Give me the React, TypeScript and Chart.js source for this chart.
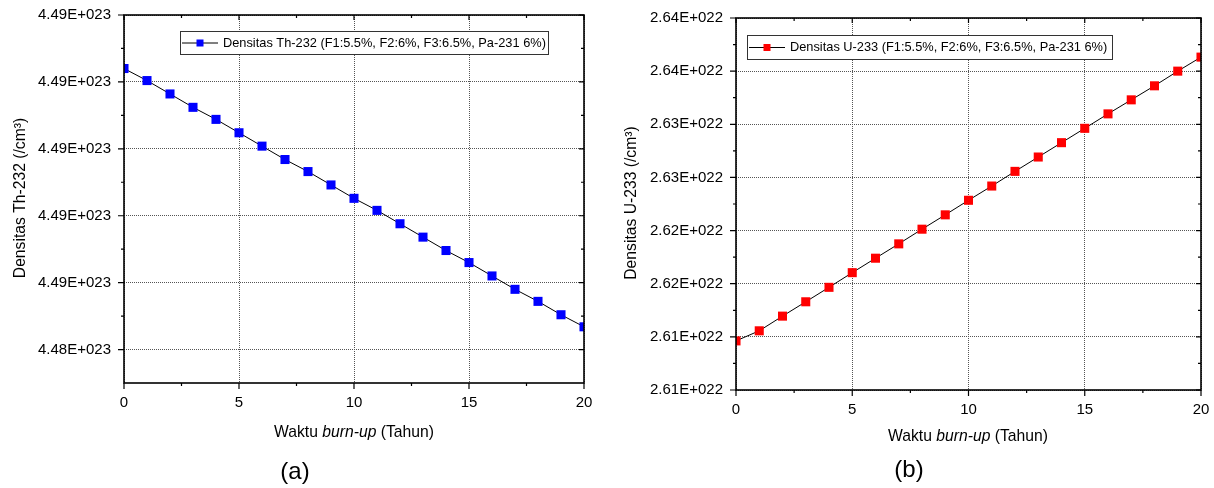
import React, { useEffect, useRef } from 'react';
import { Chart, registerables } from 'chart.js';

Chart.register(...registerables);

// ---------- data ----------
const years = [0, 1, 2, 3, 4, 5, 6, 7, 8, 9, 10, 11, 12, 13, 14, 15, 16, 17, 18, 19, 20];

const th232Density = [
  4.4866e23, 4.48651e23, 4.48641e23, 4.48631e23, 4.48622e23, 4.48612e23, 4.48602e23,
  4.48592e23, 4.48583e23, 4.48573e23, 4.48563e23, 4.48554e23, 4.48544e23, 4.48534e23,
  4.48524e23, 4.48515e23, 4.48505e23, 4.48495e23, 4.48486e23, 4.48476e23, 4.48467e23,
];

const u233Density = [
  2.60962e22, 2.61057e22, 2.61195e22, 2.6133e22, 2.61466e22, 2.61604e22, 2.6174e22,
  2.61875e22, 2.62013e22, 2.62148e22, 2.62285e22, 2.62419e22, 2.62557e22, 2.62692e22,
  2.62827e22, 2.62962e22, 2.63098e22, 2.6323e22, 2.63362e22, 2.635e22, 2.63632e22,
];

const xTicks = [0, 5, 10, 15, 20];
const xTickLabels = ['0', '5', '10', '15', '20'];

const th232Ticks = [4.4845e23, 4.485e23, 4.4855e23, 4.486e23, 4.4865e23, 4.487e23];
const th232TickLabels = ['4.48E+023', '4.49E+023', '4.49E+023', '4.49E+023', '4.49E+023', '4.49E+023'];
const th232Min = 4.48425e23;
const th232Max = 4.487e23;

const u233Ticks = [2.605e22, 2.61e22, 2.615e22, 2.62e22, 2.625e22, 2.63e22, 2.635e22, 2.64e22];
const u233TickLabels = ['2.61E+022', '2.61E+022', '2.62E+022', '2.62E+022', '2.63E+022', '2.63E+022', '2.64E+022', '2.64E+022'];
const u233Min = 2.605e22;
const u233Max = 2.64e22;

const th232Legend = 'Densitas Th-232 (F1:5.5%, F2:6%, F3:6.5%, Pa-231 6%)';
const u233Legend = 'Densitas U-233 (F1:5.5%, F2:6%, F3:6.5%, Pa-231 6%)';
const th232YTitle = 'Densitas Th-232 (/cm³)';
const u233YTitle = 'Densitas U-233 (/cm³)';
const xTitleParts = ['Waktu ', 'burn-up', ' (Tahun)'];

const FONT = '"Liberation Sans", Arial, sans-serif';

type PanelCfg = {
  left: number;
  width: number;
  values: number[];
  color: string;
  yMin: number;
  yMax: number;
  yTicks: number[];
  yTickLabels: string[];
  yTitle: string;
  legend: string;
  tag: string;
  yAxisWidth: number;
  xAxisHeight: number;
  padTop: number;
  padRight: number;
  legendBox: [number, number, number, number];
  xTitlePos: [number, number];
  tagPos: [number, number];
  yTitlePos: [number, number];
};

function makeDecor(cfg: PanelCfg) {
  return {
    id: 'decor' + cfg.tag,
    afterDatasetsDraw(chart: any) {
      const { ctx, chartArea: a, scales } = chart;
      const xs = scales.x;
      const ys = scales.y;
      ctx.save();
      // frame
      ctx.strokeStyle = '#000';
      ctx.lineWidth = 1.6;
      ctx.strokeRect(a.left, a.top, a.right - a.left, a.bottom - a.top);
      ctx.lineWidth = 1.2;
      ctx.beginPath();
      // x major / minor ticks
      for (let i = 0; i < xTicks.length; i++) {
        const px = xs.getPixelForValue(xTicks[i]);
        ctx.moveTo(px, a.bottom);
        ctx.lineTo(px, a.bottom + 6);
        ctx.moveTo(px, a.top);
        ctx.lineTo(px, a.top + 5);
        if (i < xTicks.length - 1) {
          const mx = xs.getPixelForValue((xTicks[i] + xTicks[i + 1]) / 2);
          ctx.moveTo(mx, a.bottom);
          ctx.lineTo(mx, a.bottom + 3);
          ctx.moveTo(mx, a.top);
          ctx.lineTo(mx, a.top + 3);
        }
      }
      // y major / minor ticks
      for (let i = 0; i < cfg.yTicks.length; i++) {
        const py = ys.getPixelForValue(cfg.yTicks[i]);
        ctx.moveTo(a.left, py);
        ctx.lineTo(a.left - 6, py);
        ctx.moveTo(a.right, py);
        ctx.lineTo(a.right - 5, py);
        if (i < cfg.yTicks.length - 1) {
          const my = ys.getPixelForValue((cfg.yTicks[i] + cfg.yTicks[i + 1]) / 2);
          ctx.moveTo(a.left, my);
          ctx.lineTo(a.left - 3, my);
          ctx.moveTo(a.right, my);
          ctx.lineTo(a.right - 3, my);
        }
      }
      ctx.stroke();

      // legend
      const [bx, by, bw, bh] = cfg.legendBox;
      ctx.fillStyle = '#fff';
      ctx.fillRect(bx, by, bw, bh);
      ctx.strokeStyle = '#333';
      ctx.lineWidth = 1;
      ctx.strokeRect(bx + 0.5, by + 0.5, bw, bh);
      const cy = by + bh / 2 + 0.5;
      ctx.strokeStyle = '#000';
      ctx.beginPath();
      ctx.moveTo(bx + 2, cy);
      ctx.lineTo(bx + 38, cy);
      ctx.stroke();
      ctx.fillStyle = cfg.color;
      ctx.fillRect(bx + 20 - 3.5, cy - 3.5, 7, 7);
      ctx.fillStyle = '#000';
      ctx.font = '12.8px ' + FONT;
      ctx.textBaseline = 'middle';
      ctx.textAlign = 'left';
      ctx.fillText(cfg.legend, bx + 43, cy);

      // x title with italic part
      ctx.font = '15.7px ' + FONT;
      const w0 = ctx.measureText(xTitleParts[0]).width;
      const w2 = ctx.measureText(xTitleParts[2]).width;
      ctx.font = 'italic 15.7px ' + FONT;
      const w1 = ctx.measureText(xTitleParts[1]).width;
      let tx = cfg.xTitlePos[0] - (w0 + w1 + w2) / 2;
      const ty = cfg.xTitlePos[1];
      ctx.font = '15.7px ' + FONT;
      ctx.fillText(xTitleParts[0], tx, ty);
      tx += w0;
      ctx.font = 'italic 15.7px ' + FONT;
      ctx.fillText(xTitleParts[1], tx, ty);
      tx += w1;
      ctx.font = '15.7px ' + FONT;
      ctx.fillText(xTitleParts[2], tx, ty);

      // panel tag
      ctx.font = '24px ' + FONT;
      ctx.textAlign = 'center';
      ctx.fillText(cfg.tag, cfg.tagPos[0], cfg.tagPos[1]);

      // y title
      ctx.translate(cfg.yTitlePos[0], cfg.yTitlePos[1]);
      ctx.rotate(-Math.PI / 2);
      ctx.font = '15.7px ' + FONT;
      ctx.fillText(cfg.yTitle, 0, 0);
      ctx.restore();
    },
  };
}

function Panel({ cfg }: { cfg: PanelCfg }) {
  const ref = useRef<HTMLCanvasElement>(null);
  useEffect(() => {
    const tickFont = { family: FONT, size: 15 };
    const chart = new Chart(ref.current as HTMLCanvasElement, {
      type: 'line',
      data: {
        datasets: [
          {
            data: years.map((x, i) => ({ x, y: cfg.values[i] })),
            borderColor: '#000',
            borderWidth: 1,
            pointStyle: 'rect',
            pointRadius: 6.4,
            pointBackgroundColor: cfg.color,
            pointBorderColor: cfg.color,
            pointBorderWidth: 0,
            tension: 0,
            clip: 0,
          } as any,
        ],
      },
      options: {
        responsive: false,
        animation: false,
        devicePixelRatio: 1,
        layout: {
          autoPadding: false,
          padding: { top: cfg.padTop, right: cfg.padRight, left: 0, bottom: 0 },
        },
        plugins: { legend: { display: false }, tooltip: { enabled: false } },
        scales: {
          x: {
            type: 'linear',
            min: 0,
            max: 20,
            afterBuildTicks: (s: any) => {
              s.ticks = xTicks.map((v) => ({ value: v }));
            },
            afterFit: (s: any) => {
              s.height = cfg.xAxisHeight;
              s.paddingLeft = 0;
              s.paddingRight = 0;
              s.paddingTop = 0;
              s.paddingBottom = 0;
            },
            grid: { color: '#555', lineWidth: 1, drawTicks: false },
            border: { display: false, dash: [1, 1] },
            ticks: {
              padding: 11,
              color: '#000',
              font: tickFont,
              maxRotation: 0,
              callback: (_v: any, i: number) => xTickLabels[i],
            },
          },
          y: {
            type: 'linear',
            min: cfg.yMin,
            max: cfg.yMax,
            afterBuildTicks: (s: any) => {
              s.ticks = cfg.yTicks.map((v) => ({ value: v }));
            },
            afterFit: (s: any) => {
              s.width = cfg.yAxisWidth;
              s.paddingLeft = 0;
              s.paddingRight = 0;
              s.paddingTop = 0;
              s.paddingBottom = 0;
            },
            grid: { color: '#555', lineWidth: 1, drawTicks: false },
            border: { display: false, dash: [1, 1] },
            ticks: {
              padding: 13,
              color: '#000',
              font: tickFont,
              callback: (_v: any, i: number) => cfg.yTickLabels[i],
            },
          },
        },
      } as any,
      plugins: [makeDecor(cfg)],
    });
    return () => chart.destroy();
  }, []);
  return (
    <canvas
      ref={ref}
      width={cfg.width}
      height={488}
      style={{ position: 'absolute', left: cfg.left, top: 0, width: cfg.width, height: 488 }}
    />
  );
}

const panelA: PanelCfg = {
  left: 0,
  width: 600,
  values: th232Density,
  color: '#0000ff',
  yMin: th232Min,
  yMax: th232Max,
  yTicks: th232Ticks,
  yTickLabels: th232TickLabels,
  yTitle: th232YTitle,
  legend: th232Legend,
  tag: '(a)',
  yAxisWidth: 124,
  xAxisHeight: 105,
  padTop: 15,
  padRight: 16,
  legendBox: [180, 31, 368, 23],
  xTitlePos: [354, 433],
  tagPos: [295, 472],
  yTitlePos: [21, 198],
};

const panelB: PanelCfg = {
  left: 600,
  width: 614,
  values: u233Density,
  color: '#ff0000',
  yMin: u233Min,
  yMax: u233Max,
  yTicks: u233Ticks,
  yTickLabels: u233TickLabels,
  yTitle: u233YTitle,
  legend: u233Legend,
  tag: '(b)',
  yAxisWidth: 136,
  xAxisHeight: 98,
  padTop: 18,
  padRight: 13,
  legendBox: [147, 35, 365, 24],
  xTitlePos: [368, 437],
  tagPos: [309, 470],
  yTitlePos: [32, 203],
};

export default function App() {
  return (
    <div
      style={{
        position: 'fixed',
        left: 0,
        top: 0,
        width: 1214,
        height: 488,
        background: '#fff',
        overflow: 'hidden',
      }}
    >
      <Panel cfg={panelA} />
      <Panel cfg={panelB} />
    </div>
  );
}
